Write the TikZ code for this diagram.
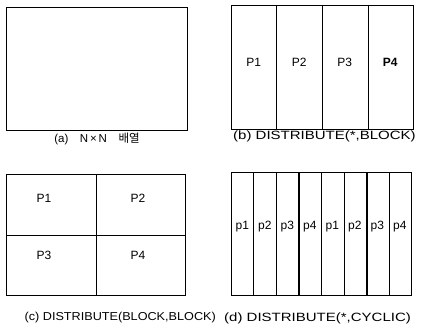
\documentclass[tikz,border=0pt]{standalone}
\usepackage{fontspec}
\usetikzlibrary{calc}
\setmainfont{Liberation Sans}
\newfontfamily\korfont{Noto Sans CJK KR}
\newfontfamily\capfont[FakeStretch=1.25]{Liberation Sans}
\newfontfamily\capfontnarrow[FakeStretch=1.1]{Liberation Sans}
\begin{document}
\begin{tikzpicture}[x=1pt,y=-1pt,
  frame/.style={draw=black,line width=1.4pt},
  divider/.style={draw=black,line width=1.2pt},
  cell/.style={font=\fontsize{12}{14}\selectfont,inner sep=0pt},
  caption/.style={font=\capfont\fontsize{12}{14}\selectfont,inner sep=0pt}]
\useasboundingbox[fill=white] (0,0) rectangle (426,329);
% (a)
\node[frame,minimum width=181pt,minimum height=123pt,anchor=north west,inner sep=0pt] (A) at (6,7) {};
\node[caption,font=\fontsize{11.5}{13}\selectfont] (capA) at (97,139) {(a)\quad N\,×\,N\quad {\korfont 배열}};
% (b)
\node[frame,minimum width=182pt,minimum height=124pt,anchor=north west,inner sep=0pt] (B) at (231,5) {};
\foreach \i in {1,2,3} {
  \coordinate (bt\i) at ($(B.north west)!\i/4!(B.north east)$);
  \coordinate (bb\i) at ($(B.south west)!\i/4!(B.south east)$);
  \draw[divider] (bt\i) -- (bb\i);
}
\foreach \i in {1,2,3,4} {
  \node[cell] (b\i) at (231+45.5*\i-22.75,62) {\ifnum\i=4 \textbf{P\i}\else P\i\fi};
}
\node[caption,anchor=west] (capB) at (233,136) {(b) DISTRIBUTE(*,BLOCK)};
% (c)
\node[frame,minimum width=179pt,minimum height=121pt,anchor=north west,inner sep=0pt] (C) at (6,174) {};
\draw[divider] (C.north) -- (C.south);
\draw[divider] (C.west) -- (C.east);
\node[cell] (c1) at (44,198) {P1};
\node[cell] (c2) at (138,198) {P2};
\node[cell] (c3) at (44,255) {P3};
\node[cell] (c4) at (138,255) {P4};
\node[caption,font=\capfontnarrow\fontsize{11.5}{14}\selectfont,anchor=east] (capC) at (216,318) {(c) DISTRIBUTE(BLOCK,BLOCK)};
% (d)
\node[frame,minimum width=180pt,minimum height=123pt,anchor=north west,inner sep=0pt] (D) at (231,172) {};
\foreach \i in {1,...,7} {
  \coordinate (dt\i) at ($(D.north west)!\i/8!(D.north east)$);
  \coordinate (db\i) at ($(D.south west)!\i/8!(D.south east)$);
  \draw[divider] (dt\i) -- (db\i);
}
\foreach \i/\l in {1/p1,2/p2,3/p3,4/p4,5/p1,6/p2,7/p3,8/p4} {
  \node[cell] (d\i) at (231+22.5*\i-11.25,227) {\l};
}
\node[caption,anchor=west] (capD) at (224,318) {(d) DISTRIBUTE(*,CYCLIC)};
\end{tikzpicture}
\end{document}
